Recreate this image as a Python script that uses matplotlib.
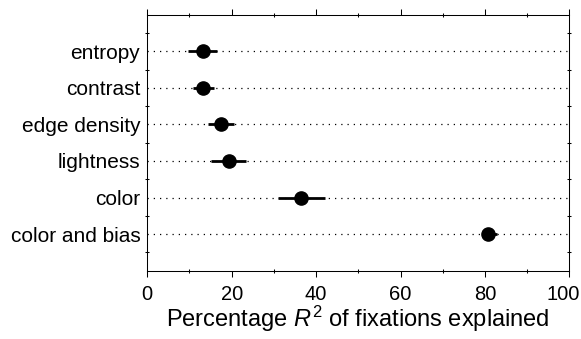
import matplotlib
matplotlib.use('Agg')
import matplotlib.pyplot as plt
import numpy as np
from matplotlib.ticker import MultipleLocator, FixedLocator, FuncFormatter

plt.rcParams['font.family'] = ['Liberation Sans', 'DejaVu Sans']
plt.rcParams['mathtext.fontset'] = 'custom'
plt.rcParams['mathtext.it'] = 'Liberation Sans:italic'
plt.rcParams['mathtext.rm'] = 'Liberation Sans'

# data
features = ["entropy", "contrast", "edge density", "lightness", "color", "color and bias"]
r2_mean = [13.3, 13.3, 17.5, 19.3, 36.4, 80.8]
r2_low = [9.7, 10.9, 14.5, 15.1, 31.0, 79.2]
r2_high = [16.4, 15.8, 20.5, 23.5, 42.1, 82.8]

fig = plt.figure(figsize=(5.81, 3.39), dpi=100)
ax = fig.add_axes([0.2535, 0.2015, 0.7265, 0.7551])

ypos = np.arange(1, len(features) + 1)
mean = np.array(r2_mean)
err = [mean - np.array(r2_low), np.array(r2_high) - mean]

# dotted guide lines across the plot
ax.hlines(ypos, 0, 100, colors='black', linestyles=(0, (1, 4)), linewidth=0.9, zorder=1)

ax.errorbar(mean, ypos, xerr=err, fmt='o', color='black', ms=9.5,
            elinewidth=2, capsize=0, zorder=3)

ax.set_xlim(0, 100)
ax.set_ylim(7, 0)
ax.set_yticks(ypos)
ax.set_yticklabels(features, fontsize=15)
ax.yaxis.set_minor_locator(FixedLocator(np.arange(0.5, 7, 1)))
ax.xaxis.set_major_locator(MultipleLocator(20))
ax.xaxis.set_minor_locator(MultipleLocator(10))
# the last label (100) is drawn separately, nudged left to stay inside the figure
ax.xaxis.set_major_formatter(FuncFormatter(lambda v, p: '' if v >= 100 else f'{v:.0f}'))

ax.tick_params(axis='x', which='major', direction='out', length=4.5, width=0.75,
               top=True, labelsize=14.5, pad=6)
ax.tick_params(axis='x', which='minor', direction='inout', length=2.5, width=0.75, top=True)
ax.tick_params(axis='y', which='major', length=0, pad=5)
ax.tick_params(axis='y', which='minor', direction='inout', length=2.5, width=0.75, right=True)

for s in ax.spines.values():
    s.set_linewidth(0.75)

ax.annotate('100', xy=(100, 0), xycoords=('data', 'axes fraction'),
            xytext=(-4.5, -10.5), textcoords='offset points',
            ha='center', va='top', fontsize=14.5)

ax.set_xlabel('Percentage $\\mathit{R}^2$ of fixations explained', fontsize=17, labelpad=0)

fig.savefig('out.png', dpi=100)
